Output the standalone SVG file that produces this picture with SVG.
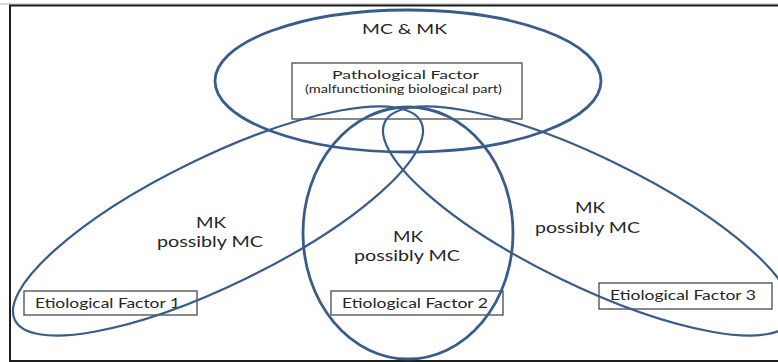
<svg xmlns="http://www.w3.org/2000/svg" width="778" height="362" viewBox="0 0 778 362">
  <style>
    .frame { stroke: #1e1e1e; stroke-width: 2; fill: none; }
    .box { fill: #ffffff; stroke: #4a4a4a; stroke-width: 1.3; }
    .ring { fill: none; stroke: #385d8a; }
    .thick { stroke-width: 2.8; }
    .thin { stroke-width: 2.2; }
    text { font-family: Lato, "Open Sans", "Liberation Sans", sans-serif; fill: #262626; }
    .region { font-size: 15px; }
    .top { font-size: 13.5px; }
    .label { font-size: 12.5px; }
    .head { font-size: 12px; }
    .sub { font-size: 10.5px; }
  </style>

  <!-- page frame (right side open) -->
  <g id="frame">
    <line x1="0" y1="4" x2="778" y2="4" stroke="#b0b0b0" stroke-width="1"/>
    <polyline class="frame" points="778,5.5 10,5.5 10,361 778,361"/>
  </g>

  <!-- factor boxes -->
  <g id="pathological">
    <rect class="box" x="292" y="63" width="230" height="56"/>
    <text class="head" x="332" y="79" textLength="147" lengthAdjust="spacingAndGlyphs">Pathological Factor</text>
    <text class="sub" x="305" y="93" textLength="197" lengthAdjust="spacingAndGlyphs">(malfunctioning biological part)</text>
  </g>
  <g id="etiological1">
    <rect class="box" x="24" y="291" width="173" height="24"/>
    <text class="label" x="35" y="307.5" textLength="145" lengthAdjust="spacingAndGlyphs">Etiological Factor 1</text>
  </g>
  <g id="etiological2">
    <rect class="box" x="331" y="291" width="172" height="24"/>
    <text class="label" x="342" y="307.5" textLength="146" lengthAdjust="spacingAndGlyphs">Etiological Factor 2</text>
  </g>
  <g id="etiological3">
    <rect class="box" x="599" y="283" width="173" height="26"/>
    <text class="label" x="610" y="300" textLength="146" lengthAdjust="spacingAndGlyphs">Etiological Factor 3</text>
  </g>

  <!-- region labels -->
  <g id="region-top">
    <text class="top" x="362" y="34" textLength="85" lengthAdjust="spacingAndGlyphs">MC &amp; MK</text>
  </g>
  <g id="region-left">
    <text class="region" x="196" y="228" textLength="30" lengthAdjust="spacingAndGlyphs">MK</text>
    <text class="region" x="157" y="247" textLength="106" lengthAdjust="spacingAndGlyphs">possibly MC</text>
  </g>
  <g id="region-middle">
    <text class="region" x="393" y="242" textLength="30" lengthAdjust="spacingAndGlyphs">MK</text>
    <text class="region" x="354" y="261" textLength="106" lengthAdjust="spacingAndGlyphs">possibly MC</text>
  </g>
  <g id="region-right">
    <text class="region" x="575" y="213" textLength="30" lengthAdjust="spacingAndGlyphs">MK</text>
    <text class="region" x="535" y="233" textLength="105" lengthAdjust="spacingAndGlyphs">possibly MC</text>
  </g>

  <!-- overlapping outlines -->
  <g id="connectors">
    <ellipse id="ring-top" class="ring thick" cx="408" cy="81" rx="193" ry="71"/>
    <ellipse id="ring-middle" class="ring thick" cx="408" cy="233" rx="105" ry="126"/>
    <ellipse id="ring-left" class="ring thin" cx="218" cy="221" rx="226" ry="64" transform="rotate(-26 218 221)"/>
    <ellipse id="ring-right" class="ring thin" cx="588" cy="221" rx="226" ry="64" transform="rotate(26 588 221)"/>
  </g>
</svg>
